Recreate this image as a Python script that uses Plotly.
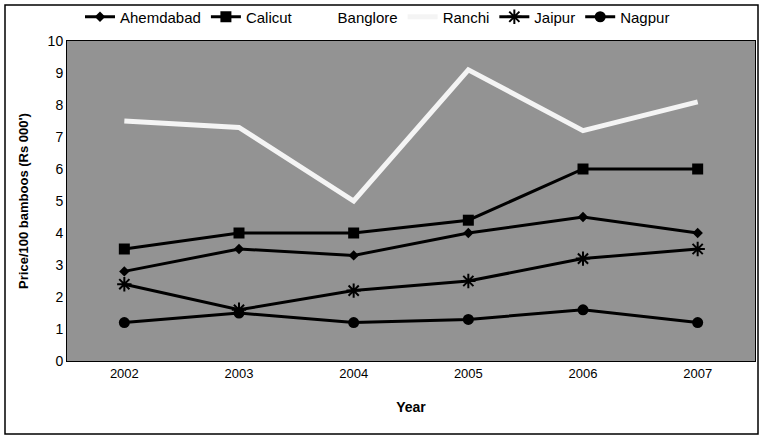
import plotly.graph_objects as go

years = ["2002", "2003", "2004", "2005", "2006", "2007"]
ahemdabad = [2.8, 3.5, 3.3, 4.0, 4.5, 4.0]
calicut = [3.5, 4.0, 4.0, 4.4, 6.0, 6.0]
banglore = [None, None, None, None, None, None]
ranchi = [7.5, 7.3, 5.0, 9.1, 7.2, 8.1]
jaipur = [2.4, 1.6, 2.2, 2.5, 3.2, 3.5]
nagpur = [1.2, 1.5, 1.2, 1.3, 1.6, 1.2]

FONT = "Liberation Sans, Arial, sans-serif"

fig = go.Figure()
fig.add_trace(go.Scatter(x=years, y=ahemdabad, name="Ahemdabad", mode="lines+markers",
                         line=dict(color="black", width=3),
                         marker=dict(symbol="diamond", size=8, color="black")))
fig.add_trace(go.Scatter(x=years, y=calicut, name="Calicut", mode="lines+markers",
                         line=dict(color="black", width=3),
                         marker=dict(symbol="square", size=11, color="black")))
fig.add_trace(go.Scatter(x=years, y=banglore, name="Banglore", mode="lines",
                         line=dict(color="white", width=3)))
fig.add_trace(go.Scatter(x=years, y=ranchi, name="Ranchi", mode="lines",
                         line=dict(color="#f4f4f4", width=5)))
fig.add_trace(go.Scatter(x=years, y=jaipur, name="Jaipur", mode="lines+markers",
                         line=dict(color="black", width=3),
                         marker=dict(symbol="asterisk-open", size=12,
                                     line=dict(color="black", width=2))))
fig.add_trace(go.Scatter(x=years, y=nagpur, name="Nagpur", mode="lines+markers",
                         line=dict(color="black", width=3),
                         marker=dict(symbol="circle", size=11, color="black")))

L, R, T, B = 67, 4, 41, 75
W, H = 759, 436
pw, ph = W - L - R, H - T - B

def px(x):
    return (x - L) / pw

def py(y):
    return (H - B - y) / ph

fig.update_layout(
    width=W, height=H,
    margin=dict(l=L, r=R, t=T, b=B, autoexpand=False),
    paper_bgcolor="white",
    plot_bgcolor="#939393",
    font=dict(family=FONT, size=13, color="black"),
    showlegend=True,
    legend=dict(orientation="h", x=px(80), xanchor="left", y=py(17), yanchor="middle",
                font=dict(family=FONT, size=15, color="black"),
                bgcolor="rgba(0,0,0,0)", itemwidth=30, tracegroupgap=0),
    xaxis=dict(type="category", range=[-0.5, 5.5], showgrid=False, zeroline=False,
               showline=True, linecolor="black", linewidth=1, mirror=True,
               ticks="", ticklen=0, tickfont=dict(size=13, family=FONT),
               title=dict(text="<b>Year</b>", font=dict(size=14, family=FONT), standoff=22)),
    yaxis=dict(range=[0, 10], dtick=1, showgrid=False, zeroline=False,
               showline=True, linecolor="black", linewidth=1, mirror=True,
               ticks="", tickfont=dict(size=14, family=FONT),
               title=dict(text="<b>Price/100 bamboos (Rs 000')</b>",
                          font=dict(size=13, family=FONT), standoff=16)),
    shapes=[dict(type="rect", xref="paper", yref="paper",
                 x0=px(5), x1=px(758), y0=py(434), y1=py(5),
                 line=dict(color="black", width=1.5), fillcolor="rgba(0,0,0,0)", layer="below")],
)

fig.write_html("out.html", config={"displayModeBar": False},
               post_script="document.body.style.margin='0';")
